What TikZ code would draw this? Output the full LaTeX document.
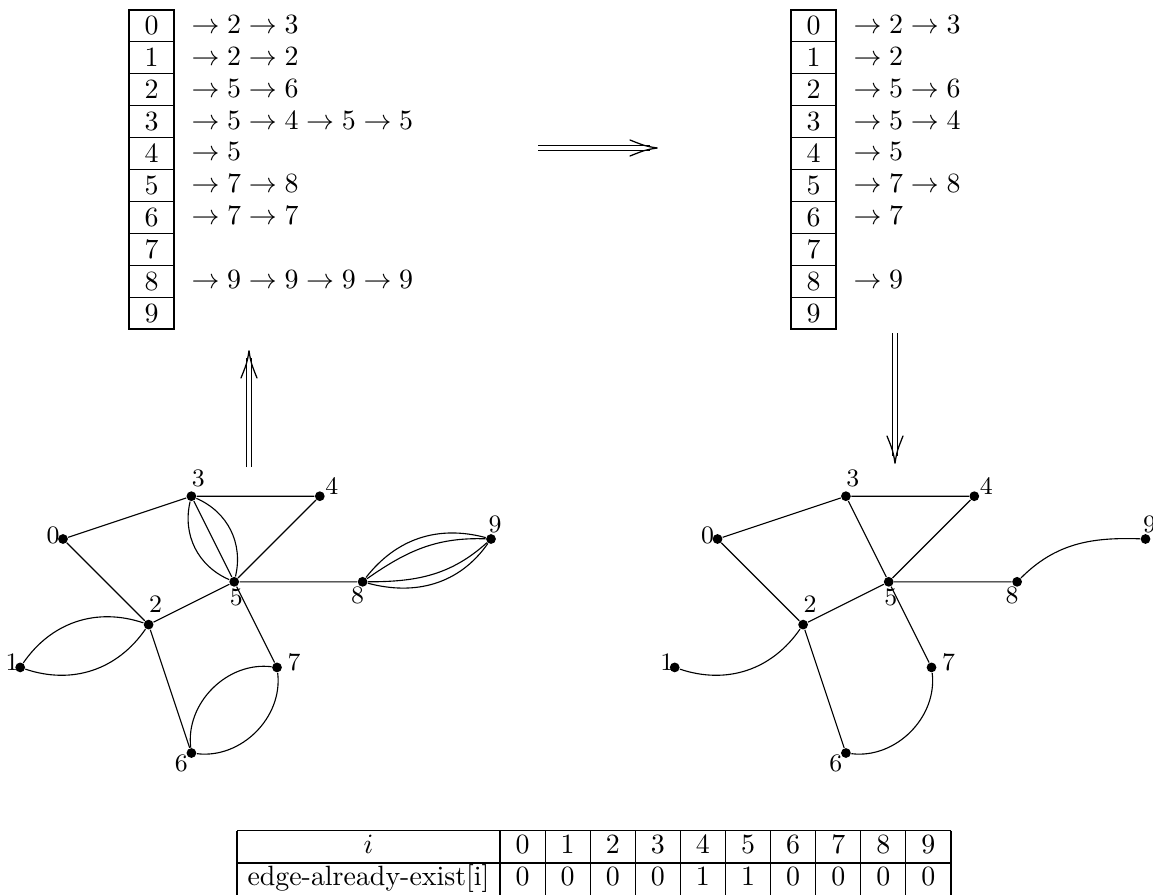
\documentclass[tikz,border=0pt]{standalone}
\usetikzlibrary{arrows.meta}
\begin{document}
\begin{tikzpicture}[x=0.3585pt,y=0.3585pt,
  dot/.style={circle,fill=black,inner sep=0pt,minimum size=3.5pt},
  lbl/.style={inner sep=0pt,font=\fontsize{9}{11}\selectfont},
  cell/.style={draw,rectangle,inner sep=0pt,minimum width=16.13pt,minimum height=11.44pt,text height=6.44pt,text depth=0pt},
  lst/.style={anchor=base west,inner sep=0pt},
  gedge/.style={line width=0.4pt},
  bigshaft/.style={double,double distance=1.4pt,line width=0.4pt},
  barb/.style={line width=0.45pt,line cap=round},
  tbltxt/.style={anchor=base,inner sep=0pt}]
\useasboundingbox (0,0) rectangle (1153,894);

% ---------- left adjacency list ----------
\foreach \i in {0,...,9} \node[cell] (lc\i) at (151.5,{868.05-31.9*\i}) {\i};
\node[lst] (lt0) at (191,{860.7-31.9*0}) {$\to 2 \to 3$};
\node[lst] (lt1) at (191,{860.7-31.9*1}) {$\to 2 \to 2$};
\node[lst] (lt2) at (191,{860.7-31.9*2}) {$\to 5 \to 6$};
\node[lst] (lt3) at (191,{860.7-31.9*3}) {$\to 5 \to 4 \to 5 \to 5$};
\node[lst] (lt4) at (191,{860.7-31.9*4}) {$\to 5$};
\node[lst] (lt5) at (191,{860.7-31.9*5}) {$\to 7 \to 8$};
\node[lst] (lt6) at (191,{860.7-31.9*6}) {$\to 7 \to 7$};
\node[lst] (lt8) at (191,{860.7-31.9*8}) {$\to 9 \to 9 \to 9 \to 9$};

% ---------- right adjacency list ----------
\foreach \i in {0,...,9} \node[cell] (rc\i) at (813.5,{868.05-31.9*\i}) {\i};
\node[lst] (rt0) at (853,{860.7-31.9*0}) {$\to 2 \to 3$};
\node[lst] (rt1) at (853,{860.7-31.9*1}) {$\to 2$};
\node[lst] (rt2) at (853,{860.7-31.9*2}) {$\to 5 \to 6$};
\node[lst] (rt3) at (853,{860.7-31.9*3}) {$\to 5 \to 4$};
\node[lst] (rt4) at (853,{860.7-31.9*4}) {$\to 5$};
\node[lst] (rt5) at (853,{860.7-31.9*5}) {$\to 7 \to 8$};
\node[lst] (rt6) at (853,{860.7-31.9*6}) {$\to 7$};
\node[lst] (rt8) at (853,{860.7-31.9*8}) {$\to 9$};

% ---------- big double arrows ----------
% horizontal (list -> list)
\coordinate (h1) at (538,746); \coordinate (h2) at (650,746); \coordinate (hT) at (657,746);
\coordinate (hb1) at (630,754); \coordinate (hc1) at (645,748);
\coordinate (hb2) at (630,738); \coordinate (hc2) at (645,744);
\draw[bigshaft] (h1) -- (h2);
\draw[barb] (hb1) .. controls (hc1) .. (hT);
\draw[barb] (hb2) .. controls (hc2) .. (hT);
% left vertical (graph -> list)
\coordinate (v1) at (249,427); \coordinate (v2) at (249,536); \coordinate (vT) at (249,543);
\coordinate (vb1) at (257,516); \coordinate (vc1) at (251,531);
\coordinate (vb2) at (241,516); \coordinate (vc2) at (247,531);
\draw[bigshaft] (v1) -- (v2);
\draw[barb] (vb1) .. controls (vc1) .. (vT);
\draw[barb] (vb2) .. controls (vc2) .. (vT);
% right vertical (list -> graph)
\coordinate (w1) at (895,561); \coordinate (w2) at (895,438); \coordinate (wT) at (895,431);
\coordinate (wb1) at (903,458); \coordinate (wc1) at (897,443);
\coordinate (wb2) at (887,458); \coordinate (wc2) at (893,443);
\draw[bigshaft] (w1) -- (w2);
\draw[barb] (wb1) .. controls (wc1) .. (wT);
\draw[barb] (wb2) .. controls (wc2) .. (wT);

% ---------- left graph ----------
\node[dot] (L0) at (63,355) {};
\node[dot] (L1) at (20.2,226.6) {};
\node[dot] (L2) at (148.6,269.4) {};
\node[dot] (L3) at (191.4,397.8) {};
\node[dot] (L4) at (319.8,397.8) {};
\node[dot] (L5) at (234.2,312.2) {};
\node[dot] (L6) at (191.4,141) {};
\node[dot] (L7) at (277,226.6) {};
\node[dot] (L8) at (362.6,312.2) {};
\node[dot] (L9) at (491,355) {};
\node[lbl] (tL0) at ([shift={(-10,4)}]L0) {0};
\node[lbl] (tL1) at ([shift={(-8,5)}]L1) {1};
\node[lbl] (tL2) at ([shift={(7,20)}]L2) {2};
\node[lbl] (tL3) at ([shift={(7,18)}]L3) {3};
\node[lbl] (tL4) at ([shift={(12,10)}]L4) {4};
\node[lbl] (tL5) at ([shift={(2,-16)}]L5) {5};
\node[lbl] (tL6) at ([shift={(-10,-10)}]L6) {6};
\node[lbl] (tL7) at ([shift={(17,5)}]L7) {7};
\node[lbl] (tL8) at ([shift={(-5,-14)}]L8) {8};
\node[lbl] (tL9) at ([shift={(4,15)}]L9) {9};
\draw[gedge] (L0) -- (L3) (L0) -- (L2) (L3) -- (L4) (L3) -- (L5) (L4) -- (L5)
  (L2) -- (L5) (L5) -- (L8) (L5) -- (L7) (L2) -- (L6);
\draw[gedge] (L3) to[bend left=40] (L5);
\draw[gedge] (L3) to[bend right=40] (L5);
\draw[gedge] (L1) to[bend left=37] (L2);
\draw[gedge] (L1) to[bend right=37] (L2);
\draw[gedge] (L6) to[bend left=52] (L7);
\draw[gedge] (L6) to[bend right=52] (L7);
\draw[gedge] (L8) to[out=52,in=165] (L9);
\draw[gedge] (L8) to[out=35,in=178] (L9);
\draw[gedge] (L8) to[out=0,in=222] (L9);
\draw[gedge] (L8) to[out=-15,in=235] (L9);

% ---------- right graph ----------
\node[dot] (R0) at (717.5,355) {};
\node[dot] (R1) at (674.7,226.6) {};
\node[dot] (R2) at (803.1,269.4) {};
\node[dot] (R3) at (845.9,397.8) {};
\node[dot] (R4) at (974.3,397.8) {};
\node[dot] (R5) at (888.7,312.2) {};
\node[dot] (R6) at (845.9,141) {};
\node[dot] (R7) at (931.5,226.6) {};
\node[dot] (R8) at (1017.1,312.2) {};
\node[dot] (R9) at (1145.5,355) {};
\node[lbl] (tR0) at ([shift={(-10,4)}]R0) {0};
\node[lbl] (tR1) at ([shift={(-8,5)}]R1) {1};
\node[lbl] (tR2) at ([shift={(7,20)}]R2) {2};
\node[lbl] (tR3) at ([shift={(7,18)}]R3) {3};
\node[lbl] (tR4) at ([shift={(12,10)}]R4) {4};
\node[lbl] (tR5) at ([shift={(2,-16)}]R5) {5};
\node[lbl] (tR6) at ([shift={(-10,-10)}]R6) {6};
\node[lbl] (tR7) at ([shift={(17,5)}]R7) {7};
\node[lbl] (tR8) at ([shift={(-5,-14)}]R8) {8};
\node[lbl] (tR9) at ([shift={(4,15)}]R9) {9};
\draw[gedge] (R0) -- (R3) (R0) -- (R2) (R3) -- (R4) (R3) -- (R5) (R4) -- (R5)
  (R2) -- (R5) (R5) -- (R8) (R5) -- (R7) (R2) -- (R6);
\draw[gedge] (R1) to[bend right=37] (R2);
\draw[gedge] (R6) to[bend right=52] (R7);
\draw[gedge] (R8) to[out=45,in=178] (R9);

% ---------- table ----------
\draw[line width=0.4pt] (237,63.5) -- (951,63.5) (237,31) -- (951,31) (237,-1.5) -- (951,-1.5);
\draw[line width=0.4pt] (237,63.5) -- (237,-1.5);
\foreach \k in {0,...,10} \draw[line width=0.4pt] ({500+45.1*\k},63.5) -- ({500+45.1*\k},-1.5);
\node[tbltxt] (ti) at (368.5,40.7) {$i$};
\node[tbltxt] (te) at (368.5,8.2) {edge-already-exist[i]};
\foreach \k in {0,...,9} \node[tbltxt] (th\k) at ({522.55+45.1*\k},40.7) {\k};
\foreach \k/\v in {0/0,1/0,2/0,3/0,4/1,5/1,6/0,7/0,8/0,9/0}
  \node[tbltxt] (tv\k) at ({522.55+45.1*\k},8.2) {\v};
\end{tikzpicture}
\end{document}
